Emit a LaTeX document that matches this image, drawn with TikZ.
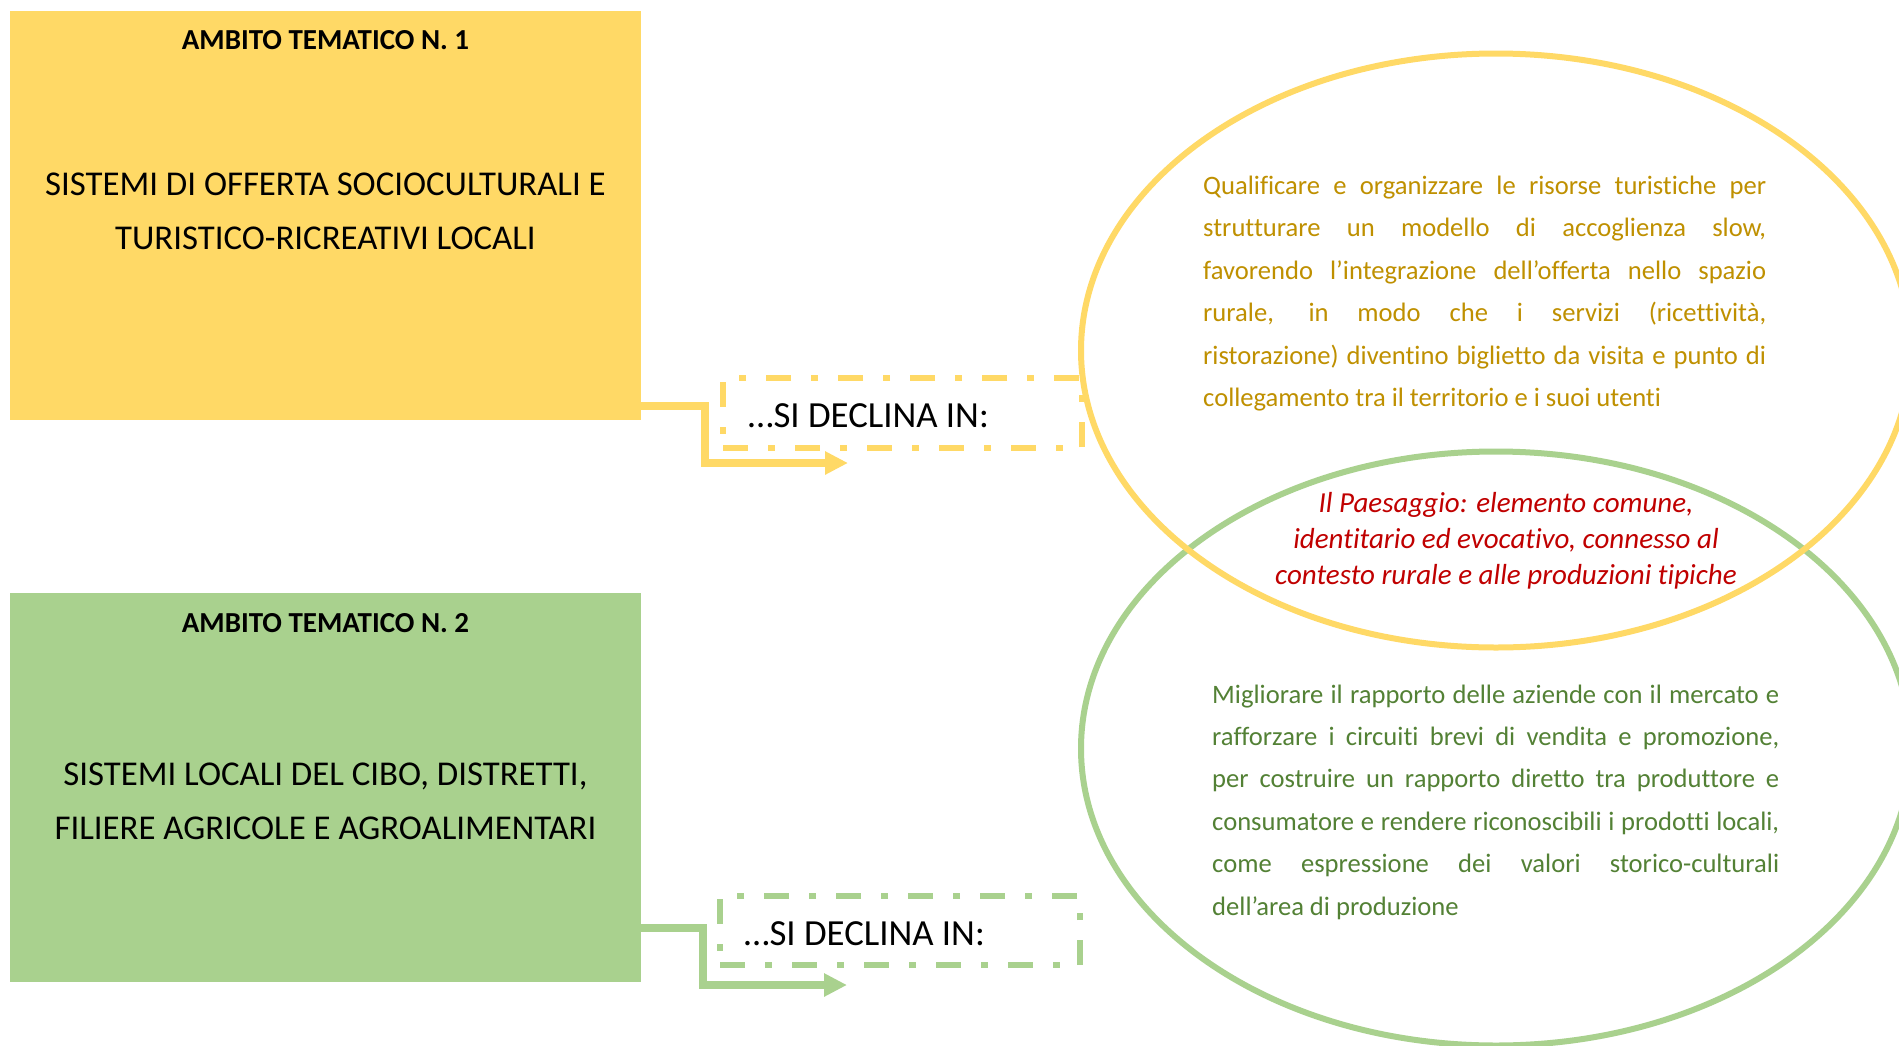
\documentclass[tikz,border=0pt]{standalone}
\usepackage{fontspec}
\setmainfont[Ligatures=NoCommon]{Carlito}
\usetikzlibrary{shapes.geometric,arrows.meta}
\definecolor{gold}{HTML}{FFD966}
\definecolor{leaf}{HTML}{A9D18E}
\definecolor{goldtext}{HTML}{BF9000}
\definecolor{leaftext}{HTML}{538135}
\definecolor{redtext}{HTML}{C00000}

\begin{document}
\begin{tikzpicture}[x=1pt,y=-1pt,
  theme/.style={draw=none, inner sep=0pt, minimum width=631pt, minimum height=#1},
  txt/.style={inner sep=0pt, anchor=base},
  declbox/.style={draw=#1, line width=6pt, dash pattern=on 25pt off 20pt on 7pt off 20pt,
                  minimum width=359pt, minimum height=70pt, inner sep=0pt},
  conn/.style={draw=#1, line width=8pt, line join=miter,
               -{Triangle[length=23pt,width=22pt]}},
  venn/.style={ellipse, draw=#1, line width=6pt, minimum width=830pt,
               minimum height=594pt, inner sep=0pt},
  titlefont/.style={font=\fontsize{29}{35}\selectfont\bfseries},
  bodyfont/.style={font=\fontsize{34.8}{54.5}\selectfont},
  declfont/.style={font=\fontsize{36.8}{44}\selectfont},
  parafont/.style={font=\fontsize{26.6}{42.4}\selectfont},
  notefont/.style={font=\fontsize{29}{36}\selectfont\itshape}
]
\useasboundingbox (0,0) rectangle (1899,1045);
\fill[white] (0,0) rectangle (1899,1045);

% thematic boxes
\node[theme=409pt, fill=gold] (box1) at (325.5,215.5) {};
\node[theme=389pt, fill=leaf] (box2) at (325.5,787.5) {};

\node[txt, titlefont] (title1) at (325.5,49.3) {AMBITO TEMATICO N. 1};
\node[txt, bodyfont] (body1) at (325.5,195)
  {\parbox[t]{620pt}{\centering SISTEMI DI OFFERTA SOCIOCULTURALI E\\TURISTICO-RICREATIVI LOCALI}};

\node[txt, titlefont] (title2) at (325.5,632) {AMBITO TEMATICO N. 2};
\node[txt, bodyfont] (body2) at (325.5,785)
  {\parbox[t]{620pt}{\centering SISTEMI LOCALI DEL CIBO, DISTRETTI,\\FILIERE AGRICOLE E AGROALIMENTARI}};

% elbow connectors
\coordinate (tip1) at (848,463);
\coordinate (tip2) at (847,985);
\draw[conn=gold] ([yshift=14pt]box1.south east) -- ++(64,0) |- (tip1);
\draw[conn=leaf] ([yshift=54pt]box2.south east) -- ++(62,0) |- (tip2);

% dash-dotted label frames
\node[declbox=gold] (decl1) at (902.5,413) {};
\node[declbox=leaf, minimum width=360pt, minimum height=69pt] (decl2) at (900,930.5) {};
\node[txt, declfont, anchor=base west] (decl1text) at (748,427) {…SI DECLINA IN:};
\node[txt, declfont, anchor=base west] (decl2text) at (744,945) {…SI DECLINA IN:};

% overlapping ellipses
\begin{scope}
  \clip (0,0) rectangle (1899,1045);
  \node[venn=leaf] (ell2) at (1496,748.5) {};
  \node[venn=gold] (ell1) at (1496,350.5) {};
\end{scope}

% ellipse texts
\node[txt, parafont, text=goldtext, anchor=base west] (para1) at (1203,194.5)
  {\parbox[t]{563pt}{%
    \makebox[\linewidth][s]{Qualificare e organizzare le risorse turistiche per}\\
    \makebox[\linewidth][s]{strutturare un modello di accoglienza slow,}\\
    \makebox[\linewidth][s]{favorendo l’integrazione dell’offerta nello spazio}\\
    \makebox[\linewidth][s]{rurale, in modo che i servizi (ricettività,}\\
    \makebox[\linewidth][s]{ristorazione) diventino biglietto da visita e punto di}\\
    collegamento tra il territorio e i suoi utenti}};

\node[txt, notefont, text=redtext] (note) at (1506,512)
  {\parbox[t]{600pt}{\centering Il Paesaggio: elemento comune,\\
    identitario ed evocativo, connesso al\\
    contesto rurale e alle produzioni tipiche}};

\node[txt, parafont, text=leaftext, anchor=base west] (para2) at (1212,703)
  {\parbox[t]{567pt}{%
    \makebox[\linewidth][s]{Migliorare il rapporto delle aziende con il mercato e}\\
    \makebox[\linewidth][s]{rafforzare i circuiti brevi di vendita e promozione,}\\
    \makebox[\linewidth][s]{per costruire un rapporto diretto tra produttore e}\\
    \makebox[\linewidth][s]{consumatore e rendere riconoscibili i prodotti locali,}\\
    \makebox[\linewidth][s]{come espressione dei valori storico-culturali}\\
    dell’area di produzione}};
\end{tikzpicture}
\end{document}
